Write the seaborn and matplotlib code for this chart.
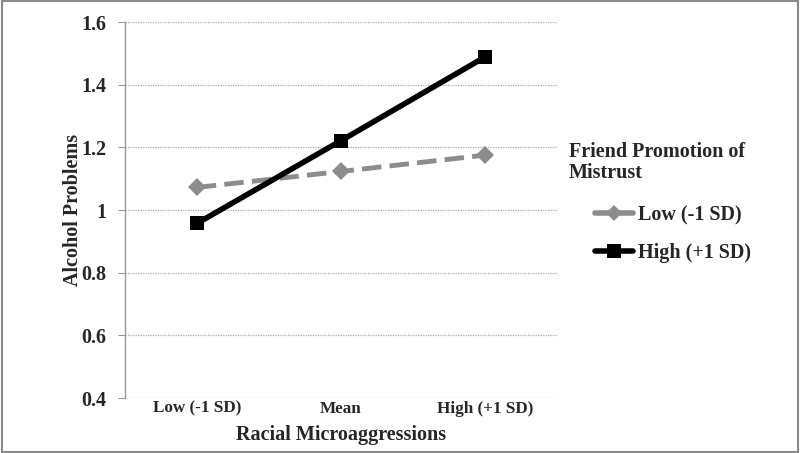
import matplotlib
matplotlib.use("Agg")
import matplotlib.pyplot as plt
import seaborn as sns
import pandas as pd
from matplotlib.lines import Line2D

categories = ["Low (-1 SD)", "Mean", "High (+1 SD)"]
low_values = [1.072, 1.123, 1.175]
high_values = [0.957, 1.221, 1.488]
series_names = ["Low (-1 SD)", "High (+1 SD)"]
legend_title = "Friend Promotion of\nMistrust"
yticks = [0.4, 0.6, 0.8, 1.0, 1.2, 1.4, 1.6]
ytick_labels = ["0.4", "0.6", "0.8", "1", "1.2", "1.4", "1.6"]

df = pd.DataFrame({
    "x": categories * 2,
    "value": low_values + high_values,
    "series": [series_names[0]] * 3 + [series_names[1]] * 3,
})

sns.set_style("white")
plt.rcParams["font.family"] = ["Liberation Serif", "DejaVu Serif"]
plt.rcParams["font.weight"] = "bold"

fig = plt.figure(figsize=(8, 4.53), dpi=100)
ax = fig.add_axes([0.156, 0.1214, 0.54, 0.83])

colors = {series_names[0]: "#8c8c8c", series_names[1]: "#000000"}
sns.lineplot(data=df, x="x", y="value", hue="series", style="series",
             palette=colors, markers={series_names[0]: "D", series_names[1]: "s"},
             dashes={series_names[0]: (4.0, 1.7), series_names[1]: ""},
             sort=False, ax=ax, legend=False, markersize=9, markeredgewidth=0)
for line, name in zip(ax.get_lines(), series_names):
    if name == series_names[0]:
        line.set_linewidth(3.5)
        line.set_markersize(9)
    else:
        line.set_linewidth(4.0)
        line.set_markersize(10.5)
    line.set_zorder(3)

ax.set_xlim(-0.5, 2.5)
ax.set_ylim(0.4, 1.6)
ax.set_yticks(yticks)
ax.set_yticklabels(ytick_labels, fontsize=14.5, fontweight="bold")
ax.set_xticks(range(3))
ax.set_xticklabels(categories, fontsize=12.3, fontweight="bold")
ax.tick_params(axis="x", length=0, pad=2)
ax.tick_params(axis="y", length=5, color="#999999", left=True, direction="out", pad=8)
ax.yaxis.grid(True, linestyle=(0, (1, 1)), color="#aaaaaa", linewidth=0.9)
ax.xaxis.grid(False)
for s in ["top", "right", "bottom"]:
    ax.spines[s].set_visible(False)
ax.spines["left"].set_color("#999999")
ax.spines["left"].set_linewidth(1.0)
ax.set_xlabel("Racial Microaggressions", fontsize=14.5, fontweight="bold", labelpad=6)
ax.set_ylabel("Alcohol Problems", fontsize=14.5, fontweight="bold", labelpad=-1)

fig.text(569 / 800, 1 - 142 / 453, legend_title, fontsize=14.5, fontweight="bold",
         ha="left", va="top", linespacing=1.1)

handles = [
    Line2D([], [], color="#8c8c8c", lw=4.0, marker="D", markersize=8, markeredgewidth=0),
    Line2D([], [], color="#000000", lw=4.0, marker="s", markersize=10, markeredgewidth=0),
]
leg = fig.legend(handles, series_names, loc="upper left",
                 bbox_to_anchor=(595 / 800, 1 - 205 / 453),
                 frameon=False, prop={"size": 14.5, "weight": "bold"},
                 handlelength=1.9, handletextpad=0.25, labelspacing=0.9,
                 borderpad=0, borderaxespad=0)

fig.patches.append(plt.Rectangle((0.002, 0.003), 0.996, 0.994, transform=fig.transFigure,
                                 fill=False, edgecolor="#8a8a8a", linewidth=1.5))

fig.savefig("out.png", dpi=100)
